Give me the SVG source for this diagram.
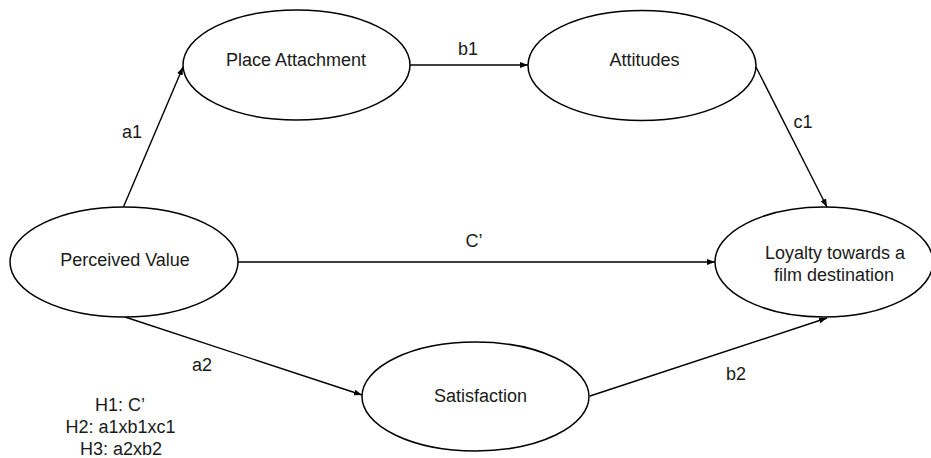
<svg xmlns="http://www.w3.org/2000/svg" width="931" height="458" viewBox="0 0 931 458">
<style>
.node{fill:#fff;stroke:#000;stroke-width:1.5}
.edge{fill:none;stroke:#000;stroke-width:1.4;marker-end:url(#ah)}
text{font-family:"Liberation Sans",Arial,sans-serif;font-size:18px;fill:#1a1a1a;text-anchor:middle}
</style>
<defs>
<marker id="ah" markerWidth="9" markerHeight="7" refX="8" refY="3" orient="auto" markerUnits="userSpaceOnUse">
<path d="M0,0 L8,3 L0,6 z" fill="#000"/>
</marker>
</defs>
<rect width="931" height="458" fill="#fff"/>
<g id="connectors">
<line class="edge" x1="123" y1="208" x2="183" y2="67"/>
<line class="edge" x1="410" y1="65" x2="528" y2="65"/>
<line class="edge" x1="756" y1="67" x2="827" y2="207"/>
<line class="edge" x1="238" y1="262" x2="715" y2="262"/>
<line class="edge" x1="125" y1="317" x2="362" y2="395"/>
<line class="edge" x1="590" y1="396" x2="827" y2="318"/>
<text x="132" y="138">a1</text>
<text x="468" y="55">b1</text>
<text x="803" y="128">c1</text>
<text x="474" y="247">C’</text>
<text x="202" y="371">a2</text>
<text x="736" y="380">b2</text>
</g>
<g id="perceived-value">
<ellipse class="node" cx="124" cy="262" rx="114" ry="55"/>
<text x="125" y="266">Perceived Value</text>
</g>
<g id="place-attachment">
<ellipse class="node" cx="296.5" cy="65" rx="113.5" ry="55"/>
<text x="296" y="66">Place Attachment</text>
</g>
<g id="attitudes">
<ellipse class="node" cx="642" cy="65.5" rx="114" ry="55"/>
<text x="644.5" y="66">Attitudes</text>
</g>
<g id="loyalty">
<ellipse class="node" cx="824" cy="262" rx="109" ry="55"/>
<text x="835" y="259">Loyalty towards a</text>
<text x="834" y="281">film destination</text>
</g>
<g id="satisfaction">
<ellipse class="node" cx="475.5" cy="396.5" rx="113.5" ry="54.5"/>
<text x="480.5" y="402">Satisfaction</text>
</g>
<g id="hypotheses">
<text x="120" y="411">H1: C’</text>
<text x="120.5" y="433">H2: a1xb1xc1</text>
<text x="121" y="455">H3: a2xb2</text>
</g>
</svg>
